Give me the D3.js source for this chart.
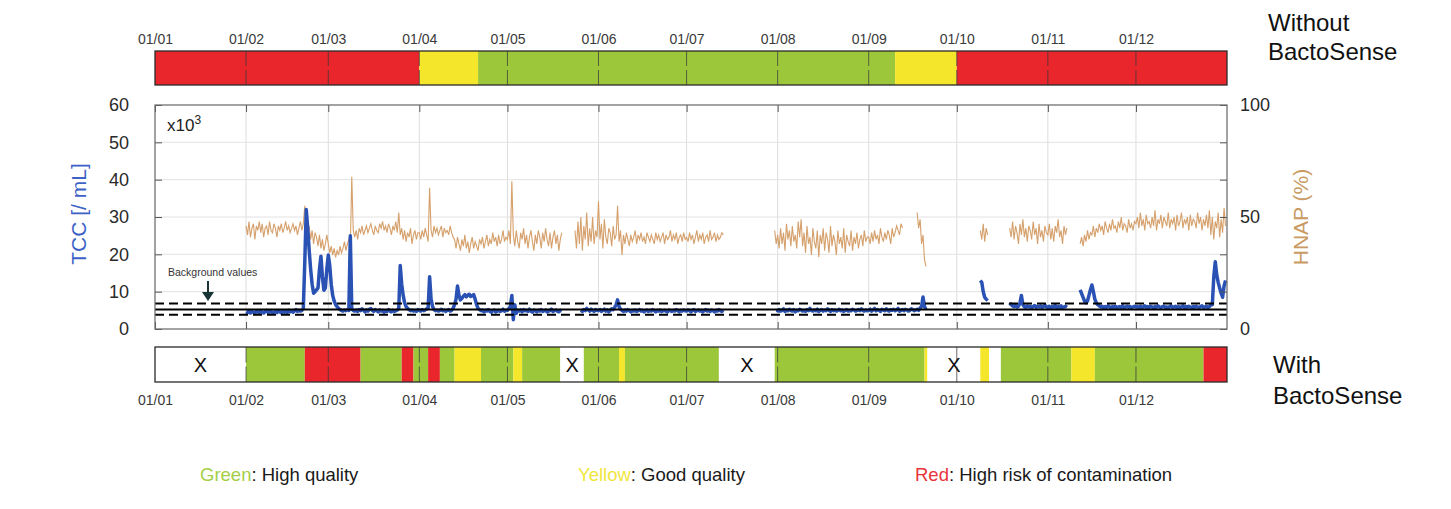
<!DOCTYPE html>
<html>
<head>
<meta charset="utf-8">
<script src="https://cdn.jsdelivr.net/npm/d3@7"></script>
<style>
body{margin:0;background:#fff;font-family:"Liberation Sans",Arial,sans-serif;}
</style>
</head>
<body>
<script>
//month tick labels
var monthTicks = ["2015-01-01","2015-02-01","2015-03-01","2015-04-01","2015-05-01","2015-06-01",
  "2015-07-01","2015-08-01","2015-09-01","2015-10-01","2015-11-01","2015-12-01"];
var tccTicks = [0,10,20,30,40,50,60];
var hnapTicks = [0,50,100];

//quality status without BactoSense (segment start dates)
var withoutStart = ["2015-01-01","2015-04-01","2015-04-21","2015-09-10","2015-10-01"];
var withoutState = ["red","yellow","green","yellow","red"];

//quality status with BactoSense
var withStart = ["2015-01-01","2015-02-01","2015-02-21","2015-03-12","2015-03-26","2015-03-30","2015-04-04",
  "2015-04-08","2015-04-13","2015-04-22","2015-05-03","2015-05-06","2015-05-19","2015-05-27","2015-06-08",
  "2015-06-10","2015-07-12","2015-07-31","2015-09-20","2015-09-21","2015-10-09","2015-10-12","2015-10-16",
  "2015-11-09","2015-11-17","2015-12-24"];
var withState = ["none","green","red","green","red","green","red","green","yellow","green","yellow","green",
  "none","green","yellow","green","none","green","yellow","none","yellow","none","green","yellow","green","red"];

//background value band (TCC x10^3 / mL)
var bgLow = 3.8, bgMid = 5.2, bgHigh = 6.8;

//TCC x10^3 /mL, two readings a day, from February
var tccFeb = [4.6,4.4,4.9,4.3,4.7,4.5,4.2,4.8,4.6,4.4,4.9,4.5,4.3,4.7,5.0,4.4,4.6,4.8,4.3,4.5,
  4.7,4.4,4.9,4.6,4.3,4.8,4.5,4.7,4.4,5.0,4.6,4.8,4.5,4.9,5.2,4.7,5.0,4.8,
  5.0,5.5,18,32,27,21,16,12,9.6,10,10.5,11,16,19.5,14,10.4,11,16];
var tccMar = [19.8,17,12,9,7.5,6.5,6,5.5,5.2,5.0,4.8,5.1,4.9,5.2,5.0,25,5.3,5.0,
  4.8,5.1,4.7,5.2,4.9,5.4,5.0,4.6,5.1,4.8,5.3,5.5,5.0,4.7,5.2,4.9,4.6,5.1,4.8,5.0,4.5,4.9,4.7,5.2,4.8,4.6,5.0,4.7,4.9,5.1,
  5.5,17,12,9,7,6,5.5,5.2,4.9,5.1,4.8,5.0,4.7,5.2];
var tccApr = [5.0,4.8,5.2,4.9,5.1,5.4,5.6,14,8,6,5.2,4.9,5.1,4.8,5.0,5.3,4.9,5.1,4.7,5.0,5.2,4.8,
  5.0,5.6,6.5,8,11.5,9,7.8,8.2,8.8,9.2,8.6,9.1,9.3,8.7,8.9,9.2,8,6.5,5.5,5.2,
  4.9,5.1,4.6,5.0,4.8,5.2,4.7,4.5,4.9,5.1,4.6,4.8,5.0,4.7,4.9,5.3,4.8,5.0];
var tccMay = [5.0,5.5,6,9,2.5,6.5,4.2,5.0,
  4.8,5.1,4.6,5.2,4.9,5.0,4.7,5.3,4.8,4.5,5.1,4.9,4.6,5.0,4.8,5.2,4.7,4.9,5.1,4.6,4.8,5.0,5.3,4.7,4.9,5.1,4.8,4.6,5.0,4.9,
  null,null,null,null,null,null,null,null,null,null,null,null,
  5.0,4.7,5.2,4.9,5.5,5.1,4.8,5.3,5.0,4.7,5.2,5.0];
var tccJun = [4.9,5.2,4.7,5.0,5.3,4.8,5.1,4.6,5.0,5.4,5.2,5.8,6.5,7.8,6,5.3,
  5.0,4.7,5.1,4.8,5.2,4.9,4.6,5.0,4.8,5.1,4.7,4.9,5.2,4.8,5.0,4.6,4.9,5.1,4.7,5.0,4.8,5.2,
  4.9,4.6,5.0,4.8,5.1,4.7,4.9,5.0,4.8,4.6,5.1,4.9,4.7,5.0,4.8,5.2,4.9,4.6,5.0,4.8,5.1,4.9];
var tccJul = [4.8,5.1,4.9,4.6,5.0,5.2,4.7,4.9,5.1,4.8,5.0,4.6,4.9,5.2,4.8,5.0,4.7,5.1,4.9,4.6,5.0,4.8,5.2,4.9,4.7,5.0,
  null,null,null,null,null,null,null,null,null,null,null,null,null,null,null,null,null,
  null,null,null,null,null,null,null,null,null,null,null,null,null,null,null,null,null,null,null,
  5.0,4.8];
var tccAug = [4.9,5.2,4.8,5.0,5.4,4.7,5.1,4.9,5.3,5.0,4.8,5.2,4.6,5.0,4.9,5.3,5.1,4.8,5.0,4.7,
  5.2,4.9,5.5,5.0,4.8,5.1,4.9,5.3,4.7,5.0,5.2,4.8,5.1,4.9,5.4,5.0,4.7,5.2,4.9,5.1,
  4.8,5.0,5.3,4.9,5.1,4.7,5.0,5.2,4.8,5.0,4.9,5.3,5.1,4.8,5.0,5.2,4.9,5.4,5.0,4.8,5.1,4.9];
var tccSep = [5.0,5.3,4.8,5.1,5.5,4.9,5.2,5.0,4.7,5.3,5.1,4.9,5.4,5.0,4.8,5.2,5.0,5.3,
  4.9,5.1,5.5,4.8,5.0,5.2,4.9,5.3,5.1,4.8,5.0,5.4,5.2,4.9,5.1,5.3,5.0,5.6,
  6,8.6,6,5.2,
  null,null,null,null,null,null,null,null,null,null,null,null,null,null,null,null,null,null,null,null];
var tccOct = [null,null,null,null,null,null,null,null,null,null,null,null,null,null,null,null,
  13,12.5,10,8.5,8,7.6,
  null,null,null,null,null,null,null,null,null,null,null,null,null,null,
  7,6.5,6.2,6.0,6.3,5.9,6.1,7.0,9.0,6.5,6.0,5.8,6.2,5.9,6.1,5.7,6.0,6.3,5.8,6.1,5.9,6.2,5.7,6.0,6.4,5.9];
var tccNov = [5.8,6.1,5.6,6.0,5.9,6.3,5.7,6.0,5.8,6.2,5.6,5.9,6.1,5.8,
  null,null,null,null,null,null,null,null,
  10.5,9.5,8.5,7.5,7,7.5,9,10.5,11.8,10,8,7,6.5,6.2,
  5.9,6.1,5.7,6.0,5.8,6.2,5.9,5.6,6.0,5.8,6.1,5.7,5.9,6.0,5.8,6.2,5.6,5.9,6.1,5.8,6.0,5.7,5.9,6.1];
var tccDec = [5.9,6.0,5.7,6.1,5.8,5.9,6.2,5.7,6.0,5.8,6.1,5.9,5.6,6.0,5.8,6.2,5.9,5.7,6.0,6.1,
  5.8,5.9,5.6,6.0,6.2,5.8,5.9,6.1,5.7,6.0,5.8,5.9,6.2,5.7,6.0,5.8,6.1,5.9,5.6,6.0,
  5.8,6.1,5.9,5.7,6.0,6.2,5.8,5.9,6.1,5.7,6.0,6.5,
  6.5,14,18,14.5,12.5,11,9.6,8.5,11.5,13];

//HNAP %, two readings a day, from February
var hnapFeb = [46,42,48,41,45,47,40,46,44,48,43,47,41,45,46,42,48,44,43,47,
  45,41,46,44,47,43,45,48,44,46,43,45,47,44,46,42,45,48,44,47,
  55,44,42,46,40,44,38,43,41,37,42,36,40,35,38,42];
var hnapMar = [38,34,37,33,36,32,35,33,37,34,36,39,35,38,40,37,68,44,
  41,44,40,45,43,46,42,44,46,43,45,47,44,42,46,44,43,47,45,48,44,46,43,47,45,42,46,44,48,43,
  52,42,45,40,44,39,43,41,45,38,42,44,40,43];
var hnapApr = [43,40,44,41,45,42,39,63,44,41,46,43,45,42,44,46,41,45,43,44,42,46,43,41,
  40,36,41,38,35,40,37,42,36,39,34,38,41,36,39,37,35,40,38,41,36,39,42,37,40,38,43,39,41,37,42,38,40,44,39,41];
var hnapMay = [40,44,38,66,42,37,44,39,36,43,40,45,38,42,36,41,44,39,35,42,38,44,41,36,43,39,45,40,37,43,36,41,44,38,42,35,40,43,
  null,null,null,null,null,null,null,null,
  44,36,48,38,50,35,46,40,52,37,45,39,50,38,44,41];
var hnapJun = [57,40,47,36,49,41,38,45,43,37,46,40,42,55,
  39,44,33,42,38,43,40,37,42,39,41,44,38,42,40,43,39,41,38,43,41,39,42,40,38,43,40,42,39,41,43,38,42,40,41,44,39,42,40,43,38,41,42,39,43,40];
var hnapJul = [41,39,43,40,42,38,41,44,39,42,40,43,38,41,42,39,44,40,41,43,39,42,40,41,43,42,
  null,null,null,null,null,null,null,null,null,null,null,null,null,null,null,null,null,
  null,null,null,null,null,null,null,null,null,null,null,null,null,null,null,null,null,
  44,38];
var hnapAug = [42,36,45,38,43,35,47,40,44,37,46,39,42,36,48,41,49,37,
  43,34,46,38,41,33,45,39,36,44,32,42,38,45,35,43,40,34,46,37,42,39,33,44,38,41,36,45,34,42,39,37,44,35,41,38,43,36,40,42,37,44,39,41];
var hnapSep = [41,38,43,39,44,40,42,38,45,41,39,43,40,44,42,38,45,41,43,46,44,42,47,45,
  null,null,null,null,null,null,null,null,
  null,52,45,49,38,42,31,28,
  null,null,null,null,null,null,null,null,null,null,null,null,null,null,null,null,null,null,null,null];
var hnapOct = [null,null,null,null,null,null,null,null,null,null,null,null,null,null,null,null,
  44,40,47,39,45,42,
  null,null,null,null,null,null,null,null,null,null,null,null,null,null,
  45,41,48,40,46,43,38,47,42,49,41,45,39,46,44,40,48,42,45,38,47,41,44,39,46,43];
var hnapNov = [42,47,40,45,39,46,43,49,41,44,38,46,42,45,
  null,null,null,null,null,null,null,null,
  38,41,37,42,39,44,40,43,42,46,41,45,43,47,44,46,42,48,45,43,47,44,49,45,46,43,48,45,50,44,47,46,43,49,45,47,44,48];
var hnapDec = [47,50,45,52,46,49,44,51,47,48,45,50,46,53,44,49,47,51,45,50,48,46,52,45,49,47,50,44,51,46,
  48,52,45,49,47,50,44,51,46,49,48,45,52,47,50,44,49,46,51,45,53,42,50,40,48,45,52,41,49,43,54,46];

//legend
var legendWord = ["Green", "Yellow", "Red"];
var legendText = [": High quality", ": Good quality", ": High risk of contamination"];

//colours
var stateColor = {green:"#9dc73b", yellow:"#f4e62b", red:"#e8262c", none:"#ffffff"};
var legendColor = ["#a4cf47", "#f0e63c", "#e8343a"];
var tccColor = "#2a52b4";
var hnapColor = "#d5a06c";

//globals
var xLeft = 155, xRight = 1227;
var plotTop = 105, plotBottom = 329;
var topBarY = 51, topBarH = 34;
var botBarY = 347, botBarH = 35;
var legendX = [200, 578, 915];

var parse = d3.timeParse("%Y-%m-%d");
var yearEnd = new Date(2016, 0, 1);

var x = d3.scaleTime().domain([parse("2015-01-01"), yearEnd]).range([xLeft, xRight]);
var yTcc = d3.scaleLinear().domain([0, 60]).range([plotBottom, plotTop]);
var yHnap = d3.scaleLinear().domain([0, 100]).range([plotBottom, plotTop]);

function toPoints(months) {
  var pts = [];
  months.forEach(function(arr, m) {
    arr.forEach(function(v, i) {
      pts.push({date: new Date(2015, m + 1, 1 + Math.floor(i / 2), (i % 2) * 12), value: v});
    });
  });
  return pts;
}
var tccData = toPoints([tccFeb,tccMar,tccApr,tccMay,tccJun,tccJul,tccAug,tccSep,tccOct,tccNov,tccDec]);
var hnapData = toPoints([hnapFeb,hnapMar,hnapApr,hnapMay,hnapJun,hnapJul,hnapAug,hnapSep,hnapOct,hnapNov,hnapDec]);

function toSegments(starts, states) {
  return starts.map(function(s, i) {
    return {start: parse(s), end: i < starts.length - 1 ? parse(starts[i + 1]) : yearEnd, state: states[i]};
  });
}

var monthDates = monthTicks.map(parse);
var fmt = d3.timeFormat("%d/%m");

//create main svg element
var svg = d3.select("body").append("svg")
  .attr("width", 1451)
  .attr("height", 509);

//status bar
function drawBar(segs, y0, h, labelSide) {
  var g = svg.append("g");
  g.selectAll("rect.seg")
    .data(segs)
    .enter()
    .append("rect")
    .attr("class", "seg")
    .attr("x", function(d) { return x(d.start); })
    .attr("y", y0)
    .attr("width", function(d) { return x(d.end) - x(d.start); })
    .attr("height", h)
    .attr("fill", function(d) { return stateColor[d.state]; });

  //month dividers
  g.selectAll("line.div")
    .data(monthDates.slice(1))
    .enter()
    .append("line")
    .attr("x1", function(d) { return x(d); })
    .attr("x2", function(d) { return x(d); })
    .attr("y1", y0)
    .attr("y2", y0 + h)
    .attr("stroke", "#3a3a3a")
    .attr("stroke-width", 1)
    .attr("stroke-dasharray", (h / 2 - 2) + ",4")
    .attr("opacity", 0.75);

  //X for missing data
  g.selectAll("text.miss")
    .data(segs.filter(function(d) { return d.state == "none" && x(d.end) - x(d.start) > 15; }))
    .enter()
    .append("text")
    .attr("x", function(d) { return (x(d.start) + x(d.end)) / 2; })
    .attr("y", y0 + h / 2 + 7)
    .attr("text-anchor", "middle")
    .attr("font-size", 20)
    .attr("fill", "#111")
    .text("X");

  g.append("rect")
    .attr("x", xLeft)
    .attr("y", y0)
    .attr("width", xRight - xLeft)
    .attr("height", h)
    .attr("fill", "none")
    .attr("stroke", "#2a2a2a")
    .attr("stroke-width", 1.3);

  var ax = (labelSide == "top" ? d3.axisTop(x) : d3.axisBottom(x))
    .tickValues(monthDates)
    .tickFormat(fmt)
    .tickSize(0)
    .tickPadding(labelSide == "top" ? 7 : 13);
  var axG = svg.append("g")
    .attr("transform", "translate(0," + (labelSide == "top" ? y0 : y0 + h) + ")")
    .call(ax);
  axG.select(".domain").remove();
  axG.selectAll("text")
    .attr("font-family", "Liberation Sans, Arial, sans-serif")
    .attr("font-size", 14)
    .attr("fill", "#3a3a3a");
}

drawBar(toSegments(withoutStart, withoutState), topBarY, topBarH, "top");
drawBar(toSegments(withStart, withState), botBarY, botBarH, "bottom");

//grid lines
var grid = svg.append("g");
grid.selectAll("line.v")
  .data(monthDates.slice(1))
  .enter()
  .append("line")
  .attr("x1", function(d) { return x(d); })
  .attr("x2", function(d) { return x(d); })
  .attr("y1", plotTop)
  .attr("y2", plotBottom)
  .attr("stroke", "#dcdcdc");
grid.selectAll("line.h")
  .data(tccTicks.slice(1, -1))
  .enter()
  .append("line")
  .attr("x1", xLeft)
  .attr("x2", xRight)
  .attr("y1", function(d) { return yTcc(d); })
  .attr("y2", function(d) { return yTcc(d); })
  .attr("stroke", "#e2e2e2");

//clip for data
svg.append("clipPath").attr("id", "plotClip")
  .append("rect")
  .attr("x", xLeft).attr("y", plotTop)
  .attr("width", xRight - xLeft).attr("height", plotBottom - plotTop);

var dataG = svg.append("g").attr("clip-path", "url(#plotClip)");

//HNAP line
dataG.append("path")
  .datum(hnapData)
  .attr("fill", "none")
  .attr("stroke", hnapColor)
  .attr("stroke-width", 1.1)
  .attr("d", d3.line()
    .defined(function(d) { return d.value !== null; })
    .x(function(d) { return x(d.date); })
    .y(function(d) { return yHnap(d.value); }));

//TCC line
dataG.append("path")
  .datum(tccData)
  .attr("fill", "none")
  .attr("stroke", tccColor)
  .attr("stroke-width", 3.5)
  .attr("stroke-linejoin", "round")
  .attr("d", d3.line()
    .defined(function(d) { return d.value !== null; })
    .x(function(d) { return x(d.date); })
    .y(function(d) { return yTcc(d.value); }));

//background value lines
var bgG = svg.append("g");
bgG.selectAll("line")
  .data([bgLow, bgMid, bgHigh])
  .enter()
  .append("line")
  .attr("x1", xLeft)
  .attr("x2", xRight)
  .attr("y1", function(d) { return yTcc(d); })
  .attr("y2", function(d) { return yTcc(d); })
  .attr("stroke", "#000")
  .attr("stroke-width", 2)
  .attr("stroke-dasharray", function(d) { return d == bgMid ? null : "9,5"; });

svg.append("text")
  .attr("x", 168)
  .attr("y", 276)
  .attr("font-size", 10.5)
  .attr("fill", "#333")
  .text("Background values");
svg.append("line")
  .attr("x1", 208).attr("y1", 281)
  .attr("x2", 208).attr("y2", 293)
  .attr("stroke", "#173535")
  .attr("stroke-width", 2);
svg.append("path")
  .attr("d", "M202,292 L214,292 L208,301 Z")
  .attr("fill", "#173535");

//axes
var leftAxis = svg.append("g")
  .attr("transform", "translate(" + xLeft + ",0)")
  .call(d3.axisLeft(yTcc).tickValues(tccTicks).tickSizeInner(-7).tickSizeOuter(0).tickPadding(26));
var rightTicks = svg.append("g")
  .attr("transform", "translate(" + xRight + ",0)")
  .call(d3.axisRight(yTcc).tickValues(tccTicks).tickSizeInner(-7).tickSizeOuter(0).tickFormat(""));
var rightAxis = svg.append("g")
  .attr("transform", "translate(" + xRight + ",0)")
  .call(d3.axisRight(yHnap).tickValues(hnapTicks).tickSize(0).tickPadding(13));
var topTicks = svg.append("g")
  .attr("transform", "translate(0," + plotTop + ")")
  .call(d3.axisTop(x).tickValues(monthDates).tickSizeInner(-7).tickSizeOuter(0).tickFormat(""));
var botTicks = svg.append("g")
  .attr("transform", "translate(0," + plotBottom + ")")
  .call(d3.axisBottom(x).tickValues(monthDates).tickSizeInner(-7).tickSizeOuter(0).tickFormat(""));

[leftAxis, rightTicks, rightAxis, topTicks, botTicks].forEach(function(a) {
  a.select(".domain").remove();
  a.selectAll("line").attr("stroke", "#555");
  a.selectAll("text")
    .attr("font-family", "Liberation Sans, Arial, sans-serif")
    .attr("font-size", 18)
    .attr("fill", "#2a2a2a");
});

//frame
svg.append("rect")
  .attr("x", xLeft)
  .attr("y", plotTop)
  .attr("width", xRight - xLeft)
  .attr("height", plotBottom - plotTop)
  .attr("fill", "none")
  .attr("stroke", "#666")
  .attr("stroke-width", 1.2);

//x10^3
var mult = svg.append("text")
  .attr("x", 167)
  .attr("y", 131)
  .attr("font-size", 17)
  .attr("fill", "#222")
  .text("x10");
mult.append("tspan")
  .attr("dy", -7)
  .attr("font-size", 12)
  .text("3");

//axis titles
svg.append("text")
  .attr("transform", "translate(86,214) rotate(-90)")
  .attr("text-anchor", "middle")
  .attr("font-size", 21)
  .attr("fill", "#3d62c6")
  .text("TCC [/ mL]");
svg.append("text")
  .attr("transform", "translate(1308,217) rotate(-90)")
  .attr("text-anchor", "middle")
  .attr("font-size", 21)
  .attr("fill", "#c99a62")
  .text("HNAP (%)");

//bar titles
var t1 = svg.append("text").attr("x", 1268).attr("y", 31).attr("font-size", 24).attr("fill", "#111");
t1.append("tspan").attr("x", 1268).text("Without");
t1.append("tspan").attr("x", 1268).attr("dy", 29).text("BactoSense");
var t2 = svg.append("text").attr("x", 1273).attr("y", 373).attr("font-size", 24).attr("fill", "#111");
t2.append("tspan").attr("x", 1273).text("With");
t2.append("tspan").attr("x", 1273).attr("dy", 31).text("BactoSense");

//legend
legendWord.forEach(function(w, i) {
  var t = svg.append("text")
    .attr("x", legendX[i])
    .attr("y", 481)
    .attr("font-size", 18.5)
    .attr("fill", "#1a1a1a");
  t.append("tspan").attr("fill", legendColor[i]).text(w);
  t.append("tspan").text(legendText[i]);
});
</script>
</body>
</html>
